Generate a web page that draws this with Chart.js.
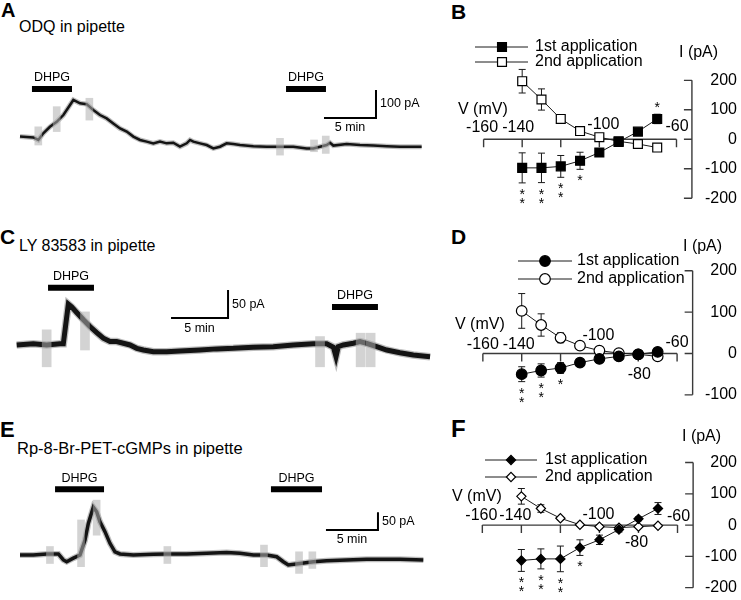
<!DOCTYPE html>
<html>
<head>
<meta charset="utf-8">
<title>DHPG currents with cGMP pathway blockers</title>
<script src="https://cdn.jsdelivr.net/npm/chart.js"></script>
<style>
  body { margin: 0; background: #fff; font-family: "Liberation Sans", Arial, sans-serif; }
  #fig { position: relative; width: 741px; height: 600px; overflow: hidden; background: #fff; }
  #fig canvas { position: absolute; }
  .lbl { position: absolute; line-height: 1; white-space: nowrap; color: #000; }
  .letter { font-weight: bold; }
  .title { font-size: 16px; }
</style>
</head>
<body>
<div id="fig">
  <div class="lbl letter" style="left:1px;top:0px;font-size:20px">A</div>
  <div class="lbl title" style="left:19px;top:19px">ODQ in pipette</div>
  <div class="lbl letter" style="left:451px;top:1px;font-size:21px">B</div>
  <div class="lbl letter" style="left:0px;top:226px;font-size:21px">C</div>
  <div class="lbl title" style="left:19px;top:238px">LY 83583 in pipette</div>
  <div class="lbl letter" style="left:451px;top:226px;font-size:21px">D</div>
  <div class="lbl letter" style="left:0px;top:419px;font-size:22px">E</div>
  <div class="lbl title" style="left:17px;top:440px;font-size:16.5px">Rp-8-Br-PET-cGMPs in pipette</div>
  <div class="lbl letter" style="left:451px;top:417px;font-size:24px">F</div>

  <canvas id="traceA" width="440" height="110" style="left:0;top:60px"></canvas>
  <canvas id="traceC" width="440" height="120" style="left:0;top:260px"></canvas>
  <canvas id="traceE" width="440" height="110" style="left:0;top:465px"></canvas>
  <canvas id="ivB" width="301" height="190" style="left:440px;top:30px"></canvas>
  <canvas id="ivD" width="301" height="175" style="left:440px;top:235px"></canvas>
  <canvas id="ivF" width="301" height="175" style="left:440px;top:425px"></canvas>
</div>
<script>
// ---- holding current traces: time (min) vs current (pA) ----
const timeA = [0, 1.28, 1.76, 2.24, 2.88, 3.53, 4.17, 4.81, 5.13, 5.77, 6.41, 7.05, 7.69, 8.33, 8.97,
  9.62, 10.26, 10.9, 11.54, 12.18, 12.82, 13.46, 14.1, 14.74, 15.38, 16.03, 16.35, 16.67, 17.31, 17.95,
  18.59, 19.23, 19.87, 20.51, 21.15, 22.44, 23.72, 25.0, 26.28, 27.56, 28.2, 28.85, 29.49, 29.81, 30.13,
  31.41, 32.69, 33.97, 35.26, 36.54, 38.62];
const currA = [36, 33, 24, 48, 71, 89, 113, 149, 167, 155, 152, 131, 113, 101, 83,
  65, 54, 36, 24, 18, 12, 18, 12, 14, 0, 12, 24, 18, 12, 6,
  -6, 0, 12, 10, 6, 2, 0, 0, 0, -6, -6, 0, 6, 14, 4,
  10, 6, 4, 2, 0, 0];
const artTimeA = [1.76, 3.53, 6.67, 25.0, 28.27, 29.4];
const artLowA = [6, 54, 95, -30, -18, -24];
const artHighA = [71, 143, 173, 30, 24, 38];
const dhpgA = [[1.15, 5.0], [25.58, 29.42]];

const timeC = [0.06, 1.52, 2.69, 3.86, 4.15, 4.59, 4.88, 5.32, 5.91, 6.49, 7.08, 7.66, 8.25, 8.83, 9.42,
  10.0, 10.59, 11.17, 12.05, 13.22, 14.39, 16.14, 17.6, 19.06, 20.82, 22.57, 24.33, 26.08, 27.25, 27.84,
  28.07, 28.27, 28.71, 29.59, 30.18, 30.76, 31.64, 32.52, 33.68, 34.85, 36.32];
const currC = [9, 11, 9, 11, 11, 82, 77, 67, 54, 42, 31, 21, 15, 15, 12,
  9, 3, 0, -3, -3, -2, 0, 2, 3, 5, 6, 9, 11, 11, 5,
  -12, 6, 9, 12, 15, 12, 6, 0, -5, -9, -12];
const artTimeC = [2.69, 6.05, 26.67, 30.23, 31.11];
const artLowC = [-30, 0, -30, -30, -30];
const artHighC = [36, 68, 24, 30, 30];
const dhpgC = [[2.81, 6.84], [27.72, 31.75]];

const timeE = [0, 1.28, 2.56, 3.69, 4.17, 4.49, 5.13, 5.77, 6.25, 6.57, 7.05, 7.37, 7.69, 8.17, 8.65,
  9.13, 9.62, 10.9, 12.82, 14.1, 16.03, 17.95, 19.87, 21.15, 22.44, 23.72, 24.68, 25.32, 25.8, 26.92,
  28.21, 29.49, 31.41, 33.33, 35.26, 36.54, 38.78];
const currE = [0, 0, 3, 3, -14, -19, -9, 0, 42, 89, 135, 122, 94, 66, 33,
  9, 3, 0, 2, 3, 3, 5, 7, 5, 0, 0, -5, -19, -28, -24,
  -19, -16, -14, -12, -12, -12, -14];
const artTimeE = [2.88, 5.87, 7.37, 14.17, 23.46, 26.83, 28.11];
const artLowE = [-24, -33, 56, -24, -33, -52, -38];
const artHighE = [24, 99, 155, 24, 28, 9, 9];
const dhpgE = [[3.37, 8.08], [24.13, 29.04]];

// ---- I-V relations: voltage (mV) vs DHPG current (pA), mean and error ----
const voltages = [-140, -130, -120, -110, -100, -90, -80, -70];
const odq1 = [-97, -97, -92, -73, -45, -9, 26, 69];
const odq1Err = [51, 50, 37, 29, 10, 10, 8, 16];
const odq2 = [197, 135, 69, 28, 7, -7, -16, -28];
const odq2Err = [40, 36, 10, 6, 12, 8, 8, 6];
const ly1 = [-50, -41, -35, -22, -13, -7, -2, 4];
const ly1Err = [18, 16, 13, 5, 5, 4, 4, 4];
const ly2 = [103, 69, 38, 19, 7, 1, -2, -7];
const ly2Err = [42, 27, 12, 5, 5, 4, 6, 5];
const rp1 = [-113, -108, -108, -72, -47, -14, 20, 53];
const rp1Err = [35, 32, 41, 25, 15, 8, 6, 19];
const rp2 = [92, 53, 22, 1, -5, -8, -5, -2];
const rp2Err = [25, 12, 5, 4, 6, 4, 4, 3];
// significance stars on the 1st application (count below / above each point)
const odqStarsBelow = [2, 2, 2, 1, 0, 0, 0, 0];
const odqStarsAbove = [0, 0, 0, 0, 0, 0, 0, 1];
const lyStarsBelow = [2, 2, 1, 0, 0, 0, 0, 0];
const rpStarsBelow = [2, 2, 2, 1, 0, 0, 0, 0];

const FONT = '"Liberation Sans", Arial, sans-serif';
const INK = '#1a1a1a';

// value range so that value 0 falls on a chosen pixel
function xRange(zeroPx, pxPerUnit, size) { return {min: -zeroPx / pxPerUnit, max: (size - zeroPx) / pxPerUnit}; }
function yRange(zeroPx, pxPerUnit, size) { return {min: -(size - zeroPx) / pxPerUnit, max: zeroPx / pxPerUnit}; }

function traceChart(id, o) {
  const cv = document.getElementById(id);
  const pts = o.time.map((t, i) => ({x: t, y: o.curr[i]}));
  const datasets = [
    {type: 'line', data: pts, borderColor: '#141414', borderWidth: o.lw, pointRadius: 0, tension: 0, order: 2},
    {type: 'line', data: pts, borderColor: 'rgba(40,40,40,0.3)', borderWidth: o.lw + 2.5, pointRadius: 0, tension: 0, order: 3},
    {type: 'bar', data: o.artT.map((t, i) => ({x: t, y: [o.artLo[i], o.artHi[i]]})),
      backgroundColor: 'rgba(175,175,175,0.55)', barThickness: o.artW, order: 1}
  ];
  o.dhpg.forEach((d, k) => datasets.push({type: 'line', data: [{x: d[0], y: o.dhpgY[k]}, {x: d[1], y: o.dhpgY[k]}],
    borderColor: '#000', borderWidth: 6, borderCapStyle: 'butt', pointRadius: 0, order: 0}));
  const sb = o.bar;
  datasets.push({type: 'line', data: [{x: sb.t - sb.dt, y: sb.i}, {x: sb.t, y: sb.i}, {x: sb.t, y: sb.i + sb.di}],
    borderColor: '#000', borderWidth: 2, borderCapStyle: 'butt', pointRadius: 0, order: 0});

  const deco = {
    id: 'traceDeco',
    afterDatasetsDraw(chart) {
      const {ctx, scales: {x, y}} = chart;
      ctx.save();
      ctx.fillStyle = '#000';
      ctx.font = '12.5px ' + FONT;
      ctx.textBaseline = 'middle';
      ctx.textAlign = 'center';
      o.dhpg.forEach((d, k) => {
        ctx.fillText('DHPG', x.getPixelForValue((d[0] + d[1]) / 2), y.getPixelForValue(o.dhpgY[k]) - 11);
      });
      const cx = x.getPixelForValue(sb.t), cy = y.getPixelForValue(sb.i);
      ctx.fillText(sb.dt + ' min', x.getPixelForValue(sb.t - sb.dt / 2), cy + 10);
      ctx.textAlign = 'left';
      ctx.fillText(sb.di + ' pA', cx + 4, y.getPixelForValue(sb.i + sb.di / 2));
      ctx.restore();
    }
  };

  new Chart(cv, {
    type: 'line',
    data: {datasets},
    options: {
      responsive: false, animation: false, events: [],
      layout: {padding: 0},
      plugins: {legend: {display: false}, tooltip: {enabled: false}},
      scales: {
        x: Object.assign({type: 'linear', display: false, offset: false}, xRange(o.t0Px, o.pxPerMin, cv.width)),
        y: Object.assign({type: 'linear', display: false}, yRange(o.zeroPx, o.pxPerPA, cv.height))
      }
    },
    plugins: [deco]
  });
}

function drawMarker(ctx, style, r, x, y, fill) {
  ctx.beginPath();
  if (style === 'rect') {
    const s = r * Math.SQRT1_2;
    ctx.rect(x - s, y - s, 2 * s, 2 * s);
  } else if (style === 'rectRot') {
    ctx.moveTo(x - r, y); ctx.lineTo(x, y - r); ctx.lineTo(x + r, y); ctx.lineTo(x, y + r); ctx.closePath();
  } else {
    ctx.arc(x, y, r, 0, Math.PI * 2);
  }
  ctx.fillStyle = fill; ctx.fill();
  ctx.lineWidth = 1.2; ctx.strokeStyle = '#000'; ctx.stroke();
}

function ivChart(id, o) {
  const cv = document.getElementById(id);
  const fills = ['#000', '#fff'];
  const mk = (label, ys, errs, k) => ({
    label, data: voltages.map((v, i) => ({x: v, y: ys[i]})), errors: errs,
    borderColor: INK, borderWidth: 1, tension: 0,
    pointStyle: o.marker, pointRadius: o.radius, pointBorderWidth: 1.2,
    pointBorderColor: '#000', pointBackgroundColor: fills[k]
  });
  const datasets = [mk('1st application', o.y1, o.e1, 0), mk('2nd application', o.y2, o.e2, 1)];

  const deco = {
    id: 'ivDeco',
    beforeDatasetsDraw(chart) {
      const {ctx, scales: {x, y}} = chart;
      const y0 = y.getPixelForValue(0);
      const ax = x.getPixelForValue(o.yAxisAt);
      ctx.save();
      ctx.strokeStyle = '#3a3a3a';
      ctx.lineWidth = 1.4;
      ctx.beginPath();
      ctx.moveTo(x.getPixelForValue(-160), y0);
      ctx.lineTo(x.getPixelForValue(-60), y0);
      [-160, -140, -120, -100, -80, -60].forEach(v => {
        const px = x.getPixelForValue(v);
        ctx.moveTo(px, y0); ctx.lineTo(px, y0 + 8);
      });
      ctx.moveTo(ax, y.getPixelForValue(o.yTicks[0]));
      ctx.lineTo(ax, y.getPixelForValue(o.yTicks[o.yTicks.length - 1]));
      o.yTicks.forEach(t => {
        const py = y.getPixelForValue(t);
        ctx.moveTo(ax - 8, py); ctx.lineTo(ax, py);
      });
      ctx.stroke();

      ctx.fillStyle = '#000';
      ctx.font = '16px ' + FONT;
      ctx.textBaseline = 'middle';
      ctx.textAlign = 'center';
      o.xLabels.forEach(l => ctx.fillText(String(l.v), x.getPixelForValue(l.v) + l.dx, y0 + l.dy));
      ctx.textAlign = 'right';
      o.yTicks.forEach(t => ctx.fillText(String(t), 297, y.getPixelForValue(t)));
      ctx.textAlign = 'left';
      ctx.fillText('V (mV)', o.vLabel[0], o.vLabel[1]);
      ctx.fillText('I (pA)', o.iLabel[0], o.iLabel[1]);

      // error bars
      ctx.strokeStyle = INK;
      ctx.lineWidth = 1;
      chart.data.datasets.forEach(d => {
        d.errors.forEach((e, i) => {
          const px = x.getPixelForValue(d.data[i].x);
          const top = y.getPixelForValue(d.data[i].y + e);
          const bot = y.getPixelForValue(d.data[i].y - e);
          ctx.beginPath();
          ctx.moveTo(px, top); ctx.lineTo(px, bot);
          ctx.moveTo(px - 3.5, top); ctx.lineTo(px + 3.5, top);
          ctx.moveTo(px - 3.5, bot); ctx.lineTo(px + 3.5, bot);
          ctx.stroke();
        });
      });
      ctx.restore();
    },
    afterDatasetsDraw(chart) {
      const {ctx, scales: {x, y}} = chart;
      const d = chart.data.datasets[0];
      ctx.save();
      ctx.fillStyle = '#000';
      ctx.font = '14px ' + FONT;
      ctx.textAlign = 'center';
      ctx.textBaseline = 'alphabetic';
      const star = (px, cy) => ctx.fillText('*', px, cy + 8);
      voltages.forEach((v, i) => {
        const px = x.getPixelForValue(v);
        const bot = y.getPixelForValue(d.data[i].y - d.errors[i]);
        const top = y.getPixelForValue(d.data[i].y + d.errors[i]);
        for (let n = 0; n < o.starsBelow[i]; n++) star(px, bot + 8 + 9 * n);
        for (let n = 0; n < (o.starsAbove ? o.starsAbove[i] : 0); n++) star(px, top - 10 - 9 * n);
      });

      // legend
      const lg = o.legend;
      ctx.font = '16px ' + FONT;
      ctx.textAlign = 'left';
      ctx.textBaseline = 'middle';
      chart.data.datasets.forEach((ds, k) => {
        const ly = lg.y[k];
        ctx.strokeStyle = INK; ctx.lineWidth = 1;
        ctx.beginPath(); ctx.moveTo(lg.x1, ly); ctx.lineTo(lg.x2, ly); ctx.stroke();
        drawMarker(ctx, o.marker, o.radius, lg.mx, ly, fills[k]);
        ctx.fillStyle = '#000';
        ctx.fillText(ds.label, lg.tx, ly);
      });
      ctx.restore();
    }
  };

  new Chart(cv, {
    type: 'line',
    data: {datasets},
    options: {
      responsive: false, animation: false, events: [],
      layout: {padding: 0},
      plugins: {legend: {display: false}, tooltip: {enabled: false}},
      scales: {
        x: {type: 'linear', display: false, min: -160 - 38 / 2.03, max: -160 - 38 / 2.03 + cv.width / 2.03},
        y: Object.assign({type: 'linear', display: false}, yRange(o.zeroPx, o.pxPerPA, cv.height))
      }
    },
    plugins: [deco]
  });
}

traceChart('traceA', {time: timeA, curr: currA, artT: artTimeA, artLo: artLowA, artHi: artHighA, artW: 7,
  dhpg: dhpgA, dhpgY: [206, 206], bar: {t: 34.23, i: 102.5, dt: 5, di: 100},
  lw: 2.5, t0Px: 20, pxPerMin: 10.4, zeroPx: 86.7, pxPerPA: 0.28});
traceChart('traceC', {time: timeC, curr: currC, artT: artTimeC, artLo: artLowC, artHi: artHighC, artW: 9,
  dhpg: dhpgC, dhpgY: [111, 77], bar: {t: 18.6, i: 57, dt: 5, di: 50},
  lw: 5, t0Px: 16, pxPerMin: 11.4, zeroPx: 90, pxPerPA: 0.56});
traceChart('traceE', {time: timeE, curr: currE, artT: artTimeE, artLo: artLowE, artHi: artHighE, artW: 7,
  dhpg: dhpgE, dhpgY: [186, 186], bar: {t: 34.42, i: 70.6, dt: 5, di: 50},
  lw: 3.5, t0Px: 20, pxPerMin: 10.4, zeroPx: 90, pxPerPA: 0.354});

ivChart('ivB', {y1: odq1, e1: odq1Err, y2: odq2, e2: odq2Err, starsBelow: odqStarsBelow, starsAbove: odqStarsAbove,
  marker: 'rect', radius: 6.3, yAxisAt: -52, yTicks: [-200, -100, 0, 100, 200],
  zeroPx: 110.5, pxPerPA: 0.32,
  xLabels: [{v: -160, dx: -1.5, dy: -12}, {v: -140, dx: -4, dy: -12}, {v: -100, dx: 4, dy: -14.5}, {v: -60, dx: 0.5, dy: -12.5}],
  vLabel: [18, 80], iLabel: [239, 23], legend: {x1: 35, x2: 88, mx: 62, tx: 95, y: [17, 32]}});
ivChart('ivD', {y1: ly1, e1: ly1Err, y2: ly2, e2: ly2Err, starsBelow: lyStarsBelow,
  marker: 'circle', radius: 5.3, yAxisAt: -52, yTicks: [-100, 0, 100, 200],
  zeroPx: 121, pxPerPA: 0.4467,
  xLabels: [{v: -160, dx: 0, dy: -9}, {v: -140, dx: -3, dy: -9}, {v: -100, dx: -1, dy: -18}, {v: -60, dx: 0, dy: -11}, {v: -80, dx: 1, dy: 21}],
  vLabel: [15, 90], iLabel: [243, 12], legend: {x1: 78, x2: 132, mx: 105, tx: 137, y: [26, 44]}});
ivChart('ivF', {y1: rp1, e1: rp1Err, y2: rp2, e2: rp2Err, starsBelow: rpStarsBelow,
  marker: 'rectRot', radius: 4.6, yAxisAt: -52, yTicks: [-200, -100, 0, 100, 200],
  zeroPx: 101, pxPerPA: 0.335,
  xLabels: [{v: -160, dx: -1, dy: -10}, {v: -140, dx: -6, dy: -10}, {v: -100, dx: -1, dy: -11}, {v: -60, dx: 1, dy: -9}, {v: -80, dx: -2, dy: 17}],
  vLabel: [12, 72], iLabel: [242, 12], legend: {x1: 45, x2: 97, mx: 71, tx: 105, y: [35, 52]}});
</script>
</body>
</html>
